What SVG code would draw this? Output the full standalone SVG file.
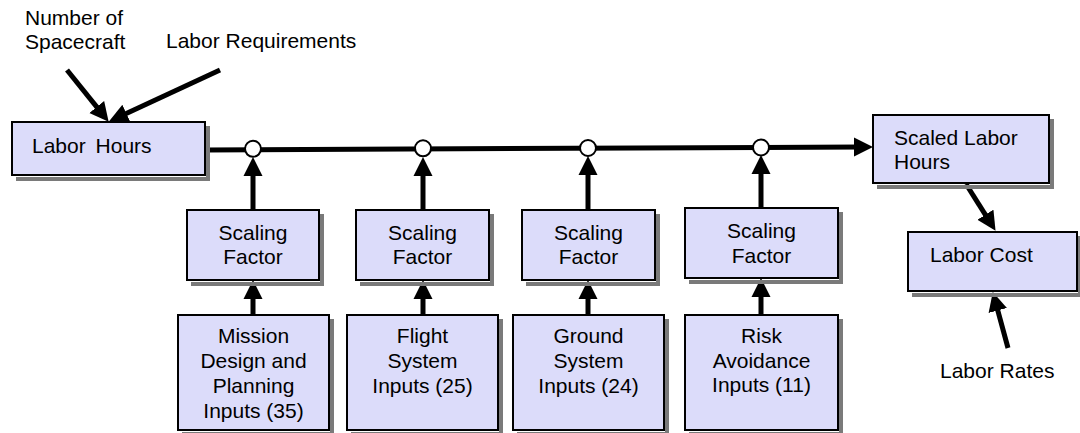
<svg xmlns="http://www.w3.org/2000/svg" width="1080" height="433" viewBox="0 0 1080 433">
  <style>
    text { font-family: "Liberation Sans", Arial, sans-serif; font-size: 21px; fill: #000; }
    .c { text-anchor: middle; }
    .box { fill: #dcdcfa; stroke: #000; stroke-width: 2; }
  </style>
  <defs>
    <!-- filled triangular arrowhead -->
    <marker id="head" markerUnits="userSpaceOnUse" viewBox="0 0 20 20" markerWidth="20" markerHeight="20" refX="6" refY="10" orient="auto">
      <path d="M0,0.5 L19,10 L0,19.5 Z" fill="#000"/>
    </marker>
  </defs>

  <rect width="1080" height="433" fill="#fff"/>

  <!-- free-standing input labels -->
  <text x="25" y="25">Number of</text>
  <text x="25" y="49">Spacecraft</text>
  <text x="166" y="48">Labor Requirements</text>
  <text x="940" y="378">Labor Rates</text>

  <!-- connectors -->
  <g id="connectors" stroke="#000" stroke-width="5" fill="none" marker-end="url(#head)">
    <line x1="67" y1="70" x2="100.5" y2="111.6"/>
    <line x1="220" y1="70" x2="120.9" y2="115.9"/>
    <line x1="206" y1="150" x2="860" y2="147"/>
    <line x1="253" y1="210" x2="253" y2="170"/>
    <line x1="423" y1="210" x2="423" y2="170"/>
    <line x1="588" y1="210" x2="588" y2="169"/>
    <line x1="761" y1="208" x2="761" y2="168"/>
    <line x1="253" y1="315" x2="253" y2="293"/>
    <line x1="423" y1="315" x2="423" y2="293"/>
    <line x1="588" y1="315" x2="588" y2="293"/>
    <line x1="761" y1="315" x2="761" y2="291"/>
    <line x1="966" y1="184" x2="988.6" y2="219.8"/>
    <line x1="1008" y1="348" x2="996.2" y2="304.6"/>
  </g>
  <g id="junctions" fill="#fff" stroke="#000" stroke-width="2">
    <circle cx="253" cy="148.8" r="8"/>
    <circle cx="423" cy="148.3" r="8"/>
    <circle cx="588" cy="148" r="8"/>
    <circle cx="761" cy="147.5" r="8"/>
  </g>

  <!-- box shadows drawn as thick offset outlines along right and bottom -->
  <g id="shadows" fill="none" stroke="#7a7a7a" stroke-width="4">
    <path d="M208,126 V179 H16"/>
    <path d="M1052,119 V187 H877"/>
    <path d="M1080,236 V295 H912"/>
    <path d="M322,214 V284 H191"/>
    <path d="M492,214 V284 H360"/>
    <path d="M658,214 V284 H526"/>
    <path d="M841,212 V282 H689"/>
    <path d="M332,319 V434 H182"/>
    <path d="M501,319 V434 H351"/>
    <path d="M667,319 V434 H517"/>
    <path d="M841,319 V434 H689"/>
  </g>

  <g id="labor-hours">
    <rect class="box" x="12" y="122" width="193" height="53"/>
    <text x="32" y="153" word-spacing="4">Labor Hours</text>
  </g>
  <g id="scaled-labor-hours">
    <rect class="box" x="873" y="115" width="176" height="68"/>
    <text x="894" y="145">Scaled Labor</text>
    <text x="894" y="169">Hours</text>
  </g>
  <g id="labor-cost">
    <rect class="box" x="908" y="232" width="169" height="59"/>
    <text x="930" y="262">Labor Cost</text>
  </g>
  <g id="scaling-factor-1">
    <rect class="box" x="187" y="210" width="132" height="70"/>
    <text class="c" x="253" y="240">Scaling</text>
    <text class="c" x="253" y="264">Factor</text>
  </g>
  <g id="scaling-factor-2">
    <rect class="box" x="356" y="210" width="133" height="70"/>
    <text class="c" x="422.5" y="240">Scaling</text>
    <text class="c" x="422.5" y="264">Factor</text>
  </g>
  <g id="scaling-factor-3">
    <rect class="box" x="522" y="210" width="133" height="70"/>
    <text class="c" x="588.5" y="240">Scaling</text>
    <text class="c" x="588.5" y="264">Factor</text>
  </g>
  <g id="scaling-factor-4">
    <rect class="box" x="685" y="208" width="153" height="70"/>
    <text class="c" x="761.5" y="238">Scaling</text>
    <text class="c" x="761.5" y="263">Factor</text>
  </g>
  <g id="mission-inputs">
    <rect class="box" x="178" y="315" width="151" height="115"/>
    <text class="c" x="253.5" y="343">Mission</text>
    <text class="c" x="253.5" y="368">Design and</text>
    <text class="c" x="253.5" y="393">Planning</text>
    <text class="c" x="253.5" y="418">Inputs (35)</text>
  </g>
  <g id="flight-inputs">
    <rect class="box" x="347" y="315" width="151" height="115"/>
    <text class="c" x="422.5" y="343">Flight</text>
    <text class="c" x="422.5" y="368">System</text>
    <text class="c" x="422.5" y="393">Inputs (25)</text>
  </g>
  <g id="ground-inputs">
    <rect class="box" x="513" y="315" width="151" height="115"/>
    <text class="c" x="588.5" y="343">Ground</text>
    <text class="c" x="588.5" y="368">System</text>
    <text class="c" x="588.5" y="393">Inputs (24)</text>
  </g>
  <g id="risk-inputs">
    <rect class="box" x="685" y="315" width="153" height="115"/>
    <text class="c" x="761.5" y="343">Risk</text>
    <text class="c" x="761.5" y="368">Avoidance</text>
    <text class="c" x="761.5" y="392">Inputs (11)</text>
  </g>
</svg>
